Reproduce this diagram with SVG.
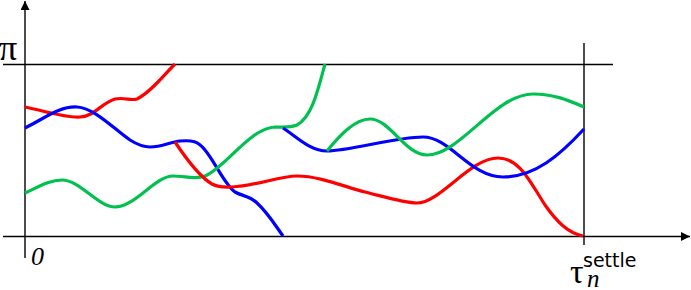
<svg xmlns="http://www.w3.org/2000/svg" width="691" height="290" viewBox="0 0 691 290">
<style>
.ax{stroke:#000;stroke-width:1.4;fill:none}
.c{fill:none;stroke-width:3.2;stroke-linecap:butt;stroke-linejoin:round}
.r{stroke:#ff0000}.b{stroke:#0000ff}.g{stroke:#00c050}
.serif{font-family:"Liberation Serif","Times New Roman",serif;fill:#000}
.sans{font-family:"DejaVu Sans",sans-serif;fill:#000}
</style>
<defs>
<marker id="ah" viewBox="0 0 10 10" refX="10" refY="5" markerWidth="13" markerHeight="9" markerUnits="userSpaceOnUse" orient="auto">
<path d="M0,0 L10,5 L0,10 Z" fill="#000"/>
</marker>
</defs>
<g id="axes">
<line class="ax" x1="25" y1="258" x2="25" y2="1" marker-end="url(#ah)"/>
<line class="ax" x1="3" y1="236.5" x2="690" y2="236.5" marker-end="url(#ah)"/>
<line class="ax" x1="3" y1="64.5" x2="613" y2="64.5"/>
<line class="ax" x1="584" y1="43" x2="584" y2="245"/>
</g>
<g id="connectors">
<path class="c r" d="M25,107 C45,111 65,118 80,117 C95,116 100,104 115,99 C125,97 130,101 137,99 C150,93 163,76 175,64"/>
<path class="c b" d="M25,128 C45,118 60,106 77,107 C95,108 115,130 130,140 C138,145 143,147 150,147 C162,147 170,142 180,141 C192,140 198,141 205,150 C215,162 225,185 235,192 C242,196 250,196 257,203 C268,213 275,225 283,236"/>
<path class="c g" d="M25,193 C40,186 50,180 62,180 C80,180 98,207 115,207 C135,207 155,176 173,176 C185,176 195,180 205,176 C225,168 250,128 275,127 C283,127 290,128 297,125 C312,117 318,90 325,64"/>
<path class="c r" d="M175,142 C185,157 200,177 212,184 C220,188 225,187 232,187 C255,186 280,176 297,176 C320,176 345,187 365,192 C385,197 405,203 417,203 C440,203 470,158 498,158 C520,158 530,182 545,205 C557,222 568,233 583,236"/>
<path class="c b" d="M283,128 C297,137 310,151 327,151 C350,151 395,137 423,137 C450,137 470,177 503,177 C535,177 560,155 584,129"/>
<path class="c g" d="M327,151 C340,135 355,119 370,119 C390,119 405,155 427,155 C460,155 495,94 533,94 C555,94 570,101 584,107"/>
</g>
<g id="labels">
<text class="serif" x="-1" y="60" font-size="36">π</text>
<text class="serif" x="31" y="265" font-size="26" font-style="italic">0</text>
<text class="serif" x="570" y="283" font-size="34">τ<tspan x="587" dy="4" font-size="25" font-style="italic">n</tspan><tspan class="sans" x="583" dy="-20" font-size="19">settle</tspan></text>
</g>
</svg>
